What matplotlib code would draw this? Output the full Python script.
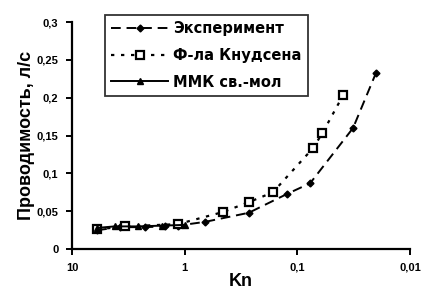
import matplotlib
matplotlib.use("Agg")
import matplotlib.pyplot as plt
from matplotlib.ticker import FixedLocator, FixedFormatter, NullLocator

plt.rcParams['font.family'] = ['Liberation Sans', 'DejaVu Sans']

# experiment (dashed, small filled diamonds)
kn_exp = [6.0, 3.75, 2.25, 1.5, 1.15, 0.66, 0.27, 0.123, 0.077, 0.032, 0.020]
g_exp = [0.025, 0.029, 0.029, 0.030, 0.031, 0.036, 0.048, 0.073, 0.087, 0.160, 0.233]

# Knudsen formula (dotted, open squares)
kn_knud = [6.0, 3.4, 1.15, 0.457, 0.27, 0.165, 0.073, 0.060, 0.039]
g_knud = [0.026, 0.030, 0.033, 0.049, 0.062, 0.075, 0.133, 0.153, 0.204]

# MMK free-molecular (solid, triangles)
kn_mmk = [6.0, 4.2, 2.6, 1.6, 1.0]
g_mmk = [0.028, 0.030, 0.030, 0.031, 0.032]

x_ticks = [10, 1, 0.1, 0.01]
x_labels = ['10', '1', '0,1', '0,01']
y_ticks = [0, 0.05, 0.1, 0.15, 0.2, 0.25, 0.3]
y_labels = ['0', '0,05', '0,1', '0,15', '0,2', '0,25', '0,3']

fig = plt.figure(figsize=(4.27, 2.91), dpi=100)
ax = fig.add_axes([0.169, 0.144, 0.791, 0.780])

ax.plot(kn_exp, g_exp, color='black', linestyle=(0, (5, 3)), linewidth=1.4,
        marker='D', markersize=3.5, label='Эксперимент')
ax.plot(kn_knud, g_knud, color='black', linestyle=(0, (1.5, 3)), linewidth=1.6,
        marker='s', markersize=5.5, markerfacecolor='white', markeredgewidth=1.6,
        label='Ф-ла Кнудсена')
ax.plot(kn_mmk, g_mmk, color='black', linestyle='-', linewidth=1.4,
        marker='^', markersize=4.5, label='ММК св.-мол')

ax.set_xscale('log')
ax.set_xlim(10, 0.01)
ax.set_ylim(0, 0.3)
ax.xaxis.set_major_locator(FixedLocator(x_ticks))
ax.xaxis.set_major_formatter(FixedFormatter(x_labels))
ax.xaxis.set_minor_locator(NullLocator())
ax.yaxis.set_major_locator(FixedLocator(y_ticks))
ax.yaxis.set_major_formatter(FixedFormatter(y_labels))

for s in ['top', 'right']:
    ax.spines[s].set_visible(False)
for s in ['left', 'bottom']:
    ax.spines[s].set_linewidth(1.6)
ax.tick_params(width=1.4, length=4, labelsize=8, pad=6)
for lbl in ax.get_xticklabels() + ax.get_yticklabels():
    lbl.set_fontweight('bold')

ax.set_xlabel('Kn', fontsize=13, fontweight='bold', labelpad=0)
ax.set_ylabel('Проводимость, л/с', fontsize=13, fontweight='bold', labelpad=1)

leg = ax.legend(loc='upper left', bbox_to_anchor=(0.075, 1.065),
                prop={'family': 'DejaVu Sans', 'size': 10.5, 'weight': 'bold'},
                frameon=True, fancybox=False, edgecolor='black',
                handlelength=3.9, handletextpad=0.3, borderpad=0.45,
                labelspacing=0.8)
leg.get_frame().set_linewidth(1.3)

fig.savefig('out.png', dpi=100)
